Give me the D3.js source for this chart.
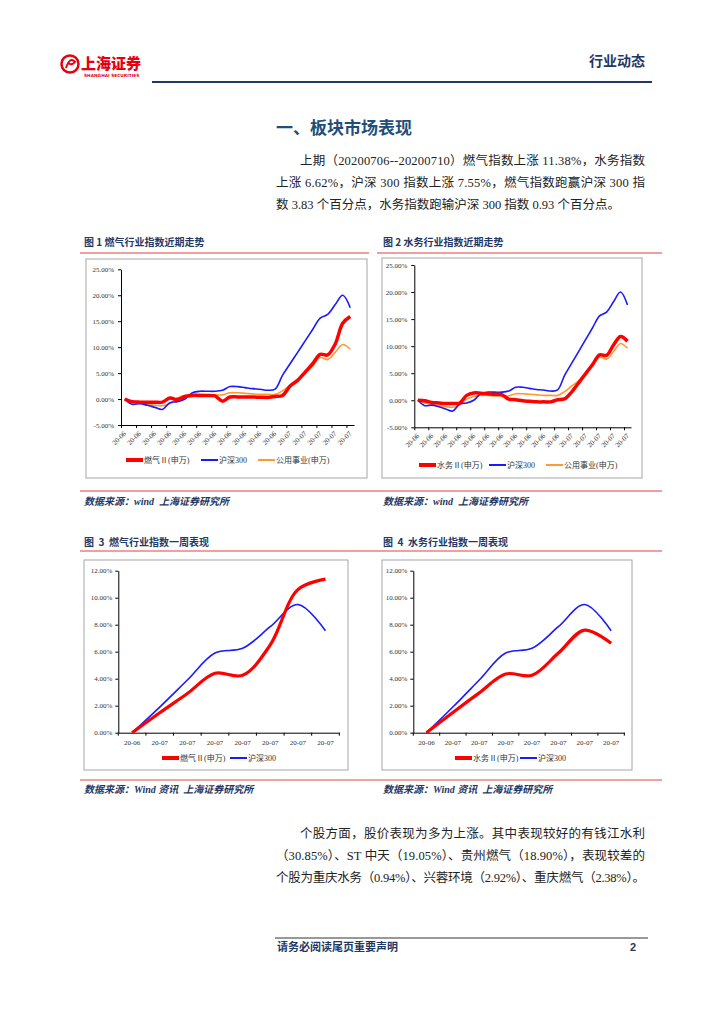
<!DOCTYPE html>
<html>
<head>
<meta charset="utf-8">
<script src="https://cdn.jsdelivr.net/npm/d3@7"></script>
<style>
  body { margin: 0; background: #fff; }
  svg text { font-family: "Liberation Serif", "Noto Sans CJK SC", serif; white-space: pre; }
</style>
</head>
<body>
<script>
// ---- data ----
const recentTicks = ["20-06","20-06","20-06","20-06","20-06","20-06","20-06","20-06",
                     "20-06","20-06","20-06","20-07","20-07","20-07","20-07","20-07"];
const recentYTicks = [-5, 0, 5, 10, 15, 20, 25];
// daily cumulative change (%), 31 trading days
const gasRecent   = [0,-0.5,-0.6,-0.6,-0.6,-0.6,0.2,-0.1,0.5,0.7,0.7,0.7,0.6,-0.4,0.4,0.4,
                     0.4,0.4,0.35,0.3,0.5,0.7,2.5,3.6,5.2,6.8,8.6,8.5,10.6,14.6,15.9];
const waterRecent = [0,-0.1,-0.4,-0.5,-0.6,-0.6,-0.5,0.9,1.35,1.3,1.2,1.1,1.05,0.2,0.1,-0.1,
                     -0.2,-0.3,-0.3,-0.3,0.1,0.25,1.5,3.2,4.9,6.6,8.4,8.3,10.2,11.8,10.9];
const hs300Recent = [0,-1.0,-0.9,-1.2,-1.6,-2.0,-0.7,-0.5,0.0,1.2,1.5,1.5,1.5,1.7,2.4,2.4,
                     2.2,2.0,1.9,1.7,1.9,4.6,6.8,9.0,11.2,13.4,15.6,16.3,18.2,20.0,17.6];
const utilRecent  = [0,-0.5,-0.8,-1.0,-1.2,-1.3,-0.9,0.2,0.7,0.9,0.9,0.8,0.8,0.8,1.2,1.2,
                     1.1,1.0,0.9,0.9,0.9,1.6,2.6,3.6,4.9,6.4,8.0,7.6,9.0,10.5,9.6];

const weekLabels = ["20-06","20-07","20-07","20-07","20-07","20-07","20-07","20-07"];
const weekYTicks = [0, 2, 4, 6, 8, 10, 12];
const gasWeek   = [0, 1.48, 2.9, 4.4, 4.25, 6.5, 10.6, 11.38];
const waterWeek = [0, 1.5, 2.95, 4.35, 4.25, 5.9, 7.6, 6.62];
const hs300Week = [0, 1.9, 3.9, 5.9, 6.25, 7.85, 9.5, 7.55];

// ---- page ----
const navy = "#1f3864";
const ruleRed = "#ef7f7f";
const cjk = "'Noto Sans CJK SC', sans-serif";

const svg = d3.select("body").append("svg")
  .attr("width", 724).attr("height", 1024);
svg.append("rect").attr("width", 724).attr("height", 1024).attr("fill", "#fff");

// header
svg.append("circle").attr("cx", 70).attr("cy", 64).attr("r", 8.5)
  .attr("fill", "none").attr("stroke", "#e60012").attr("stroke-width", 2.5);
svg.append("path").attr("d", "M66,68 Q70,56 75,62 Q72,66 68,63")
  .attr("fill", "none").attr("stroke", "#e60012").attr("stroke-width", 2);
svg.append("text").attr("x", 81).attr("y", 69).text("上海证券")
  .style("font-family", cjk).style("font-weight", "900").style("font-size", "15px")
  .attr("fill", "#e60012");
svg.append("text").attr("x", 84).attr("y", 76.5).text("SHANGHAI SECURITIES")
  .style("font-family", "'DejaVu Sans'").style("font-size", "4.3px").style("font-weight", "bold")
  .attr("fill", "#e60012");
svg.append("text").attr("x", 645).attr("y", 66).attr("text-anchor", "end").text("行业动态")
  .style("font-family", cjk).style("font-weight", "bold").style("font-size", "14px").attr("fill", navy);
svg.append("line").attr("x1", 152).attr("x2", 652).attr("y1", 82).attr("y2", 82)
  .attr("stroke", navy).attr("stroke-width", 2);

// section title
svg.append("text").attr("x", 276).attr("y", 134).text("一、板块市场表现")
  .style("font-family", cjk).style("font-weight", "bold").style("font-size", "17px").attr("fill", "#1f4e79");

function para(lines, y0) {
  lines.forEach((l, i) => {
    svg.append("text").attr("x", l[1]).attr("y", y0 + i * 22).text(l[0])
      .attr("textLength", l[2] - l[1]).attr("lengthAdjust", "spacing")
      .style("font-size", "12.5px").attr("fill", "#222");
  });
}
para([
  ["上期（20200706--20200710）燃气指数上涨 11.38%，水务指数", 300, 645],
  ["上涨 6.62%，沪深 300 指数上涨 7.55%，燃气指数跑赢沪深 300 指", 276, 645],
  ["数 3.83 个百分点，水务指数跑输沪深 300 指数 0.93 个百分点。", 276, 620]
], 165);
para([
  ["个股方面，股价表现为多为上涨。其中表现较好的有钱江水利", 300, 645],
  ["（30.85%）、ST 中天（19.05%）、贵州燃气（18.90%），表现较差的", 276, 645],
  ["个股为重庆水务（0.94%）、兴蓉环境（2.92%）、重庆燃气（2.38%）。", 276, 645]
], 837.5);

// figure captions, rules, sources
function caption(t, x, y) {
  svg.append("text").attr("x", x).attr("y", y).text(t)
    .style("font-family", cjk).style("font-weight", "bold").style("font-size", "10px").attr("fill", navy);
}
function source(t, x, y) {
  svg.append("text").attr("x", x).attr("y", y).text(t)
    .style("font-family", "'Liberation Serif', 'Noto Sans CJK SC'").style("font-weight", "bold")
    .style("font-style", "italic").style("font-size", "10px").attr("fill", navy);
}
function rule(x1, x2, y) {
  svg.append("line").attr("x1", x1).attr("x2", x2).attr("y1", y).attr("y2", y)
    .attr("stroke", ruleRed).attr("stroke-width", 1.5);
}
caption("图 1 燃气行业指数近期走势", 84, 246);
caption("图 2 水务行业指数近期走势", 383, 246);
rule(80, 369, 253); rule(377, 662, 253);
rule(80, 662, 491);
source("数据来源：wind  上海证券研究所", 84, 505);
source("数据来源：wind  上海证券研究所", 383, 505);
caption("图  3  燃气行业指数一周表现", 84, 546);
caption("图  4  水务行业指数一周表现", 383, 546);
rule(80, 662, 551);
rule(80, 662, 780);
source("数据来源：Wind 资讯  上海证券研究所", 84, 793);
source("数据来源：Wind 资讯  上海证券研究所", 383, 793);

// footer
svg.append("line").attr("x1", 275).attr("x2", 648).attr("y1", 938).attr("y2", 938)
  .attr("stroke", "#333").attr("stroke-width", 1);
svg.append("text").attr("x", 277).attr("y", 951).text("请务必阅读尾页重要声明")
  .style("font-family", cjk).style("font-weight", "bold").style("font-size", "11px").attr("fill", navy);
svg.append("text").attr("x", 636).attr("y", 951).attr("text-anchor", "end").text("2")
  .style("font-family", "'Liberation Sans'").style("font-weight", "bold").style("font-size", "11px").attr("fill", navy);

// ---- charts ----
function frame(b) {
  svg.append("rect").attr("x", b[0]).attr("y", b[1]).attr("width", b[2] - b[0]).attr("height", b[3] - b[1])
    .attr("fill", "#fff").attr("stroke", "#a6a6a6").attr("stroke-width", 1);
}
function styleAxis(g, fs) {
  g.select(".domain").attr("stroke", "#000");
  g.selectAll(".tick line").attr("stroke", "#000");
  g.selectAll("text").style("font-size", fs).attr("fill", "#333");
}
function legend(items, y) {
  items.forEach(it => {
    svg.append("line").attr("x1", it.x).attr("x2", it.x + 17).attr("y1", y).attr("y2", y)
      .attr("stroke", it.color).attr("stroke-width", it.w);
    svg.append("text").attr("x", it.x + 18).attr("y", y + 3).text(it.label)
      .style("font-size", "8px").attr("fill", "#333");
  });
}

function recentChart(box, ax, series, leg) {
  frame(box);
  const x = d3.scaleLinear().domain([-0.5, 30.5]).range([ax.x0, ax.x1]);
  const y = d3.scaleLinear().domain([-5, 25]).range([ax.yb, ax.yt]);
  const gy = svg.append("g").attr("transform", `translate(${ax.x0},0)`)
    .call(d3.axisLeft(y).tickValues(recentYTicks).tickSize(3).tickSizeOuter(0).tickPadding(4)
      .tickFormat(d => d.toFixed(2) + "%"));
  styleAxis(gy, "7px");
  const gx = svg.append("g").attr("transform", `translate(0,${y(-5)})`)
    .call(d3.axisBottom(x).tickValues(recentTicks.map((d, k) => 2 * k - 0.5)).tickSize(3).tickSizeOuter(0)
      .tickFormat((d, k) => recentTicks[k]));
  styleAxis(gx, "7px");
  gx.selectAll("text").attr("x", 0).attr("y", 0).attr("dy", 0)
    .attr("text-anchor", "end").attr("transform", "translate(5,9) rotate(-45)");
  const line = d3.line().x((d, i) => x(i)).y(d => y(d)).curve(d3.curveCatmullRom);
  series.forEach(s => {
    svg.append("path").datum(s.values).attr("d", line).attr("fill", "none")
      .attr("stroke", s.color).attr("stroke-width", s.w).attr("stroke-linejoin", "round");
  });
  legend(leg.items, leg.y);
}

function weekChart(box, ax, series, leg) {
  frame(box);
  const x = d3.scaleBand().domain(d3.range(weekLabels.length)).range([ax.x0, ax.x1]);
  const y = d3.scaleLinear().domain([0, 12]).range([ax.yb, ax.yt]);
  const gy = svg.append("g").attr("transform", `translate(${ax.x0},0)`)
    .call(d3.axisLeft(y).tickValues(weekYTicks).tickSize(3).tickSizeOuter(0).tickPadding(3)
      .tickFormat(d => d.toFixed(2) + "%"));
  styleAxis(gy, "7px");
  const gx = svg.append("g").attr("transform", `translate(0,${ax.yb})`)
    .call(d3.axisBottom(x).tickSize(0).tickSizeOuter(0).tickPadding(7).tickFormat(i => weekLabels[i]));
  styleAxis(gx, "7px");
  gx.selectAll(".bound").data(d3.range(weekLabels.length + 1)).enter().append("line")
    .attr("x1", k => ax.x0 + k * x.step()).attr("x2", k => ax.x0 + k * x.step())
    .attr("y1", 0).attr("y2", 3).attr("stroke", "#000");
  const line = d3.line().x((d, i) => x(i) + x.bandwidth() / 2).y(d => y(d)).curve(d3.curveCatmullRom);
  series.forEach(s => {
    svg.append("path").datum(s.values).attr("d", line).attr("fill", "none")
      .attr("stroke", s.color).attr("stroke-width", s.w).attr("stroke-linejoin", "round");
  });
  legend(leg.items, leg.y);
}

const RED = "#ff0000", BLUE = "#1a1aff", ORANGE = "#ff9933";

recentChart([86, 259, 367, 478], { x0: 121, x1: 354, yb: 425, yt: 269.3 },
  [{ values: utilRecent, color: ORANGE, w: 1.6 },
   { values: hs300Recent, color: BLUE, w: 1.6 },
   { values: gasRecent, color: RED, w: 3.5 }],
  { y: 460, items: [
    { x: 126, color: RED, w: 4, label: "燃气Ⅱ(申万)" },
    { x: 201, color: BLUE, w: 2, label: "沪深300" },
    { x: 258, color: ORANGE, w: 2, label: "公用事业(申万)" }] });

recentChart([382, 258, 642, 478], { x0: 414.3, x1: 631, yb: 427.3, yt: 265 },
  [{ values: utilRecent, color: ORANGE, w: 1.6 },
   { values: hs300Recent, color: BLUE, w: 1.6 },
   { values: waterRecent, color: RED, w: 3.5 }],
  { y: 465, items: [
    { x: 419, color: RED, w: 4, label: "水务Ⅱ(申万)" },
    { x: 489, color: BLUE, w: 2, label: "沪深300" },
    { x: 546, color: ORANGE, w: 2, label: "公用事业(申万)" }] });

weekChart([84, 560, 348, 770], { x0: 118.3, x1: 339.3, yb: 732.7, yt: 570.7 },
  [{ values: hs300Week, color: BLUE, w: 1.6 },
   { values: gasWeek, color: RED, w: 3.2 }],
  { y: 758, items: [
    { x: 162, color: RED, w: 4, label: "燃气Ⅱ(申万)" },
    { x: 230, color: BLUE, w: 2, label: "沪深300" }] });

weekChart([382, 560, 632, 770], { x0: 413.3, x1: 624.3, yb: 732.7, yt: 570.7 },
  [{ values: hs300Week, color: BLUE, w: 1.6 },
   { values: waterWeek, color: RED, w: 3.2 }],
  { y: 758, items: [
    { x: 455, color: RED, w: 4, label: "水务Ⅱ(申万)" },
    { x: 520, color: BLUE, w: 2, label: "沪深300" }] });
</script>
</body>
</html>
